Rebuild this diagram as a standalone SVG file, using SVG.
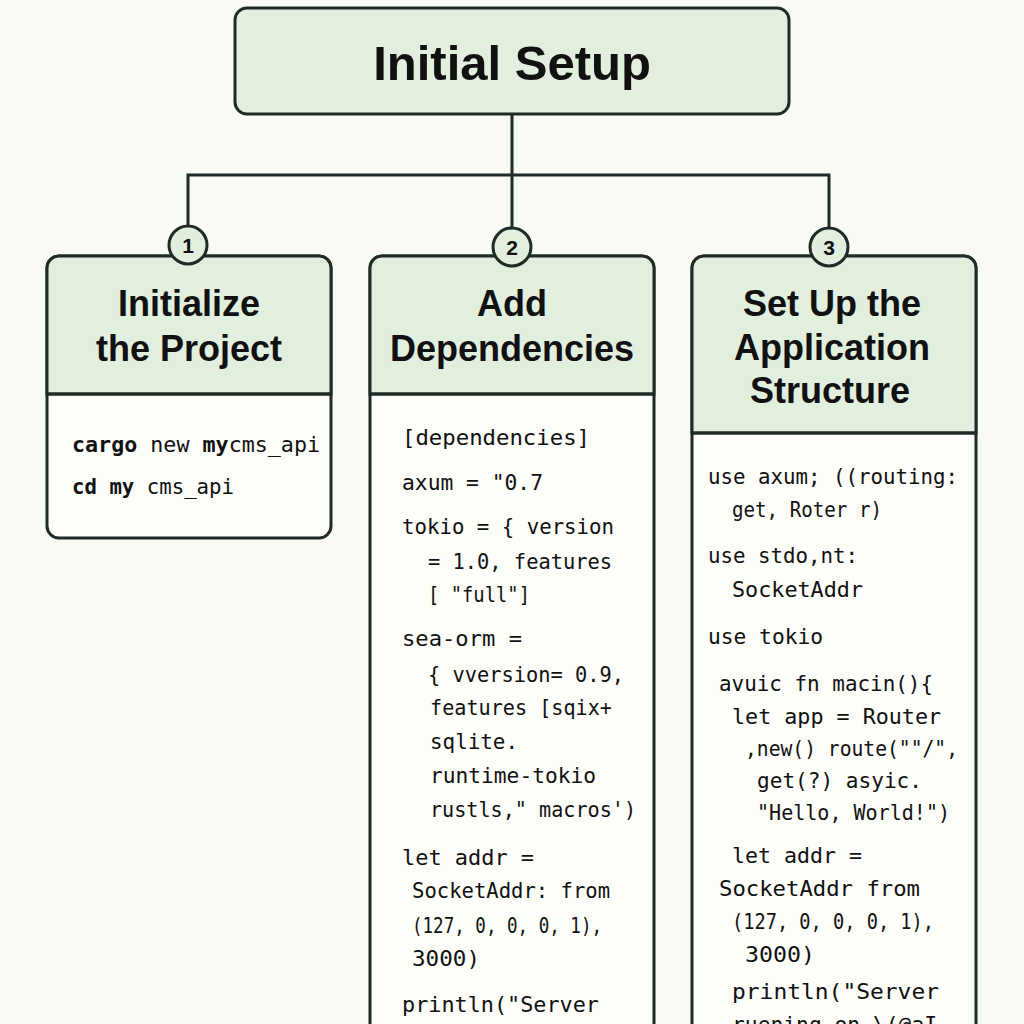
<svg xmlns="http://www.w3.org/2000/svg" width="1024" height="1024" viewBox="0 0 1024 1024">
<style>
.hdr{fill:#e2efdf;stroke:#1f2b27;stroke-width:3}
.body{fill:#fdfdf9;stroke:#1f2b27;stroke-width:3}
.div{stroke:#1f2b27;stroke-width:3}
.conn{fill:none;stroke:#1f2b27;stroke-width:3}
.badge{fill:#e2efdf;stroke:#1f2b27;stroke-width:3}
.num{font-family:"Liberation Sans",Arial,sans-serif;font-weight:bold;font-size:21px;fill:#111;text-anchor:middle}
.title{font-family:"Liberation Sans",Arial,sans-serif;font-weight:bold;font-size:36px;fill:#111;text-anchor:middle}
.main{font-family:"Liberation Sans",Arial,sans-serif;font-weight:bold;font-size:49px;fill:#111;text-anchor:middle}
.code{font-family:"DejaVu Sans Mono",monospace;font-size:22px;fill:#111}
.b{font-weight:bold}
</style>
<rect width="1024" height="1024" fill="#fafaf5"/>
<g id="connectors">
<path class="conn" d="M512 114 V230"/>
<path class="conn" d="M188 230 V175 H829 V230"/>
</g>
<g id="initial-setup">
<rect class="hdr" x="235" y="8" width="554" height="106" rx="12"/>
<text class="main" x="512" y="80">Initial Setup</text>
</g>
<g id="step1">
<rect class="body" x="47" y="256" width="284" height="282" rx="12"/>
<path class="hdr" d="M47 394 V268 a12 12 0 0 1 12 -12 H319 a12 12 0 0 1 12 12 V394 Z"/>
<line class="div" x1="47" y1="394" x2="331" y2="394"/>
<text class="title" x="189" y="316">Initialize</text>
<text class="title" x="189" y="361">the Project</text>
<text class="code" x="72" y="452" textLength="248" lengthAdjust="spacingAndGlyphs"><tspan class="b">cargo</tspan> new <tspan class="b">my</tspan>cms_api</text>
<text class="code" x="72" y="494" textLength="162" lengthAdjust="spacingAndGlyphs"><tspan class="b">cd my</tspan> cms_api</text>
<circle class="badge" cx="188" cy="245" r="19"/>
<text class="num" x="188" y="253">1</text>
</g>
<g id="step2">
<rect class="body" x="370" y="256" width="284" height="800" rx="12"/>
<path class="hdr" d="M370 394 V268 a12 12 0 0 1 12 -12 H642 a12 12 0 0 1 12 12 V394 Z"/>
<line class="div" x1="370" y1="394" x2="654" y2="394"/>
<text class="title" x="512" y="316">Add</text>
<text class="title" x="512" y="361">Dependencies</text>
<text class="code" x="402" y="445" textLength="188" lengthAdjust="spacingAndGlyphs">[dependencies]</text>
<text class="code" x="402" y="490" textLength="141" lengthAdjust="spacingAndGlyphs">axum = "0.7</text>
<text class="code" x="402" y="534" textLength="212" lengthAdjust="spacingAndGlyphs">tokio = { version</text>
<text class="code" x="428" y="569" textLength="184" lengthAdjust="spacingAndGlyphs">= 1.0, features</text>
<text class="code" x="428" y="602" textLength="102" lengthAdjust="spacingAndGlyphs">[ "full"]</text>
<text class="code" x="402" y="646" textLength="120" lengthAdjust="spacingAndGlyphs">sea-orm =</text>
<text class="code" x="428" y="682" textLength="196" lengthAdjust="spacingAndGlyphs">{ vversion= 0.9,</text>
<text class="code" x="430" y="715" textLength="182" lengthAdjust="spacingAndGlyphs">features [sqix+</text>
<text class="code" x="430" y="749" textLength="88" lengthAdjust="spacingAndGlyphs">sqlite.</text>
<text class="code" x="430" y="783" textLength="166" lengthAdjust="spacingAndGlyphs">runtime-tokio</text>
<text class="code" x="430" y="817" textLength="206" lengthAdjust="spacingAndGlyphs">rustls," macros')</text>
<text class="code" x="402" y="865" textLength="132" lengthAdjust="spacingAndGlyphs">let addr =</text>
<text class="code" x="412" y="898" textLength="198" lengthAdjust="spacingAndGlyphs">SocketAddr: from</text>
<text class="code" x="412" y="933" textLength="190" lengthAdjust="spacingAndGlyphs">(127, 0, 0, 0, 1),</text>
<text class="code" x="412" y="966" textLength="68" lengthAdjust="spacingAndGlyphs">3000)</text>
<text class="code" x="402" y="1012" textLength="197" lengthAdjust="spacingAndGlyphs">println("Server</text>
<circle class="badge" cx="512" cy="247" r="19"/>
<text class="num" x="512" y="255">2</text>
</g>
<g id="step3">
<rect class="body" x="692" y="256" width="284" height="800" rx="12"/>
<path class="hdr" d="M692 433 V268 a12 12 0 0 1 12 -12 H964 a12 12 0 0 1 12 12 V433 Z"/>
<line class="div" x1="692" y1="433" x2="976" y2="433"/>
<text class="title" x="832" y="316">Set Up the</text>
<text class="title" x="832" y="360">Application</text>
<text class="title" x="830" y="403">Structure</text>
<text class="code" x="708" y="484" textLength="250" lengthAdjust="spacingAndGlyphs">use axum; ((routing:</text>
<text class="code" x="732" y="517" textLength="150" lengthAdjust="spacingAndGlyphs">get, Roter r)</text>
<text class="code" x="708" y="563" textLength="150" lengthAdjust="spacingAndGlyphs">use stdo,nt:</text>
<text class="code" x="732" y="597" textLength="131" lengthAdjust="spacingAndGlyphs">SocketAddr</text>
<text class="code" x="708" y="644" textLength="115" lengthAdjust="spacingAndGlyphs">use tokio</text>
<text class="code" x="719" y="691" textLength="214" lengthAdjust="spacingAndGlyphs">avuic fn  macin(){</text>
<text class="code" x="732" y="724" textLength="209" lengthAdjust="spacingAndGlyphs">let app = Router</text>
<text class="code" x="745" y="756" textLength="213" lengthAdjust="spacingAndGlyphs">,new() route(""/",</text>
<text class="code" x="757" y="788" textLength="165" lengthAdjust="spacingAndGlyphs">get(?) asyic.</text>
<text class="code" x="757" y="820" textLength="193" lengthAdjust="spacingAndGlyphs">"Hello, World!")</text>
<text class="code" x="732" y="863" textLength="130" lengthAdjust="spacingAndGlyphs">let addr =</text>
<text class="code" x="719" y="896" textLength="201" lengthAdjust="spacingAndGlyphs">SocketAddr from</text>
<text class="code" x="732" y="929" textLength="202" lengthAdjust="spacingAndGlyphs">(127, 0, 0, 0, 1),</text>
<text class="code" x="745" y="962" textLength="70" lengthAdjust="spacingAndGlyphs">3000)</text>
<text class="code" x="732" y="999" textLength="207" lengthAdjust="spacingAndGlyphs">println("Server</text>
<text class="code" x="732" y="1032" textLength="205" lengthAdjust="spacingAndGlyphs">ruening on \(@aI</text>
<circle class="badge" cx="829" cy="247" r="19"/>
<text class="num" x="829" y="255">3</text>
</g>
</svg>
